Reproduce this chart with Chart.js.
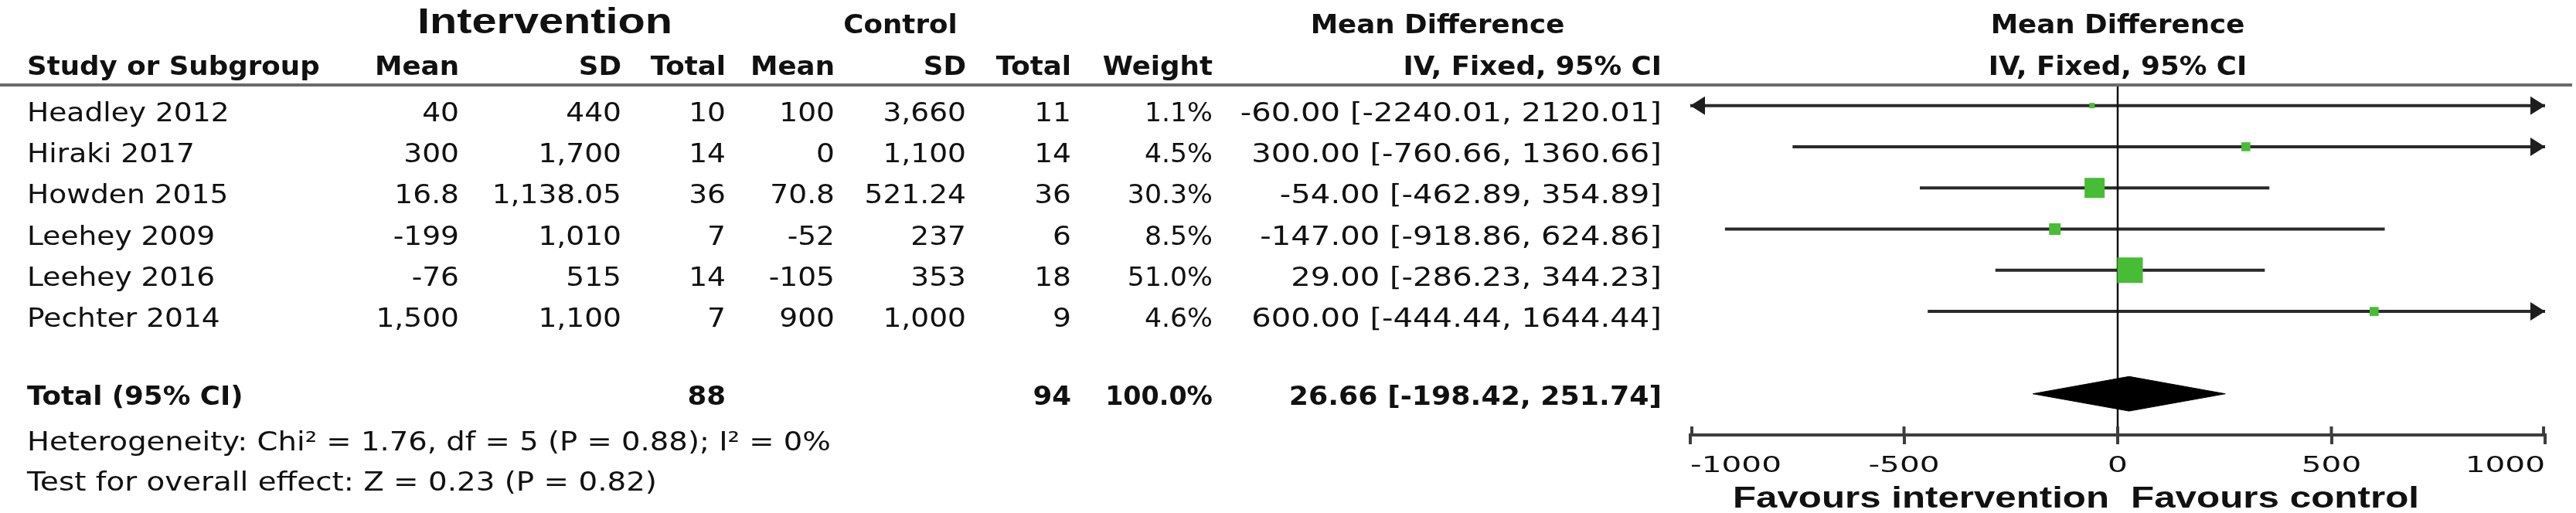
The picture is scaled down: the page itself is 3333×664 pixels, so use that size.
<!DOCTYPE html>
<html>
<head>
<meta charset="utf-8">
<script src="https://cdn.jsdelivr.net/npm/chart.js@4.4.1/dist/chart.umd.min.js"></script>
<style>
html,body{margin:0;padding:0;background:#fff;}
canvas{display:block;}
</style>
</head>
<body>
<canvas id="c" width="3333" height="664"></canvas>
<script>
// ---------------- DATA ----------------
const studies   = ['Headley 2012','Hiraki 2017','Howden 2015','Leehey 2009','Leehey 2016','Pechter 2014'];
const intMean   = ['40','300','16.8','-199','-76','1,500'];
const intSD     = ['440','1,700','1,138.05','1,010','515','1,100'];
const intTotal  = [10,14,36,7,14,7];
const ctlMean   = ['100','0','70.8','-52','-105','900'];
const ctlSD     = ['3,660','1,100','521.24','237','353','1,000'];
const ctlTotal  = [11,14,36,6,18,9];
const weights   = [1.1,4.5,30.3,8.5,51.0,4.6];
const md        = [-60.00,300.00,-54.00,-147.00,29.00,600.00];
const ciLow     = [-2240.01,-760.66,-462.89,-918.86,-286.23,-444.44];
const ciHigh    = [2120.01,1360.66,354.89,624.86,344.23,1644.44];
const totalInt  = 88;
const totalCtl  = 94;
const totalWeight = 100.0;
const totalMD   = 26.66;
const totalLow  = -198.42;
const totalHigh = 251.74;
const xTicks    = [-1000,-500,0,500,1000];
const heterogeneityText = 'Heterogeneity: Chi\u00B2 = 1.76, df = 5 (P = 0.88); I\u00B2 = 0%';
const overallText = 'Test for overall effect: Z = 0.23 (P = 0.82)';
const favourLeft = 'Favours intervention';
const favourRight = 'Favours control';

// ---------------- helpers ----------------
const X_MIN = xTicks[0], X_MAX = xTicks[xTicks.length-1];
const TOTAL_ROW = studies.length + 1;
const fmt2 = v => v.toFixed(2);
const ciStr = (m,l,h) => fmt2(m) + ' [' + fmt2(l) + ', ' + fmt2(h) + ']';
const sqSide = w => 4.27*Math.sqrt(w) + 2.5;

const GREEN = '#46bd34';
const LINE = '#2a2a2a';

const datasets = [];
// squares (point estimates)
datasets.push({
  label: 'Estimate',
  data: md.map((v,i)=>({x:v, y:i})),
  pointStyle: 'rect',
  pointRadius: c => sqSide(weights[c.dataIndex]) / Math.SQRT2,
  pointHoverRadius: c => sqSide(weights[c.dataIndex]) / Math.SQRT2,
  backgroundColor: GREEN,
  borderWidth: 0,
  showLine: false,
  order: 0
});
// confidence interval lines
studies.forEach((s,i)=>{
  datasets.push({
    label: s + ' CI',
    data: [{x: Math.max(ciLow[i], X_MIN), y: i}, {x: Math.min(ciHigh[i], X_MAX), y: i}],
    showLine: true,
    borderColor: LINE,
    borderWidth: 4,
    pointRadius: 0,
    order: 3
  });
});
// line of no effect
datasets.push({
  label: 'zero',
  data: [{x:0, y:-0.5}, {x:0, y:TOTAL_ROW + 1}],
  showLine: true,
  borderColor: '#111',
  borderWidth: 2.5,
  pointRadius: 0,
  order: 2
});
// pooled diamond
const DH = 0.42;
datasets.push({
  label: 'Total',
  data: [{x:totalLow,y:TOTAL_ROW},{x:totalMD,y:TOTAL_ROW-DH},{x:totalHigh,y:TOTAL_ROW},{x:totalMD,y:TOTAL_ROW+DH},{x:totalLow,y:TOTAL_ROW}],
  showLine: true,
  fill: 'shape',
  backgroundColor: '#000',
  borderColor: '#000',
  borderWidth: 1,
  pointRadius: 0,
  tension: 0,
  order: 1
});

function txt(ctx, s, x, y, font, align, sx, w) {
  ctx.save();
  ctx.font = font;
  const m = ctx.measureText(s).width;
  const k = w ? w / m : (sx || 1);
  const W = m * k;
  let x0 = align === 'right' ? x - W : (align === 'center' ? x - W/2 : x);
  ctx.translate(x0, y);
  ctx.scale(k, 1);
  ctx.textAlign = 'left';
  ctx.textBaseline = 'alphabetic';
  ctx.fillStyle = '#111';
  ctx.fillText(s, 0, 0);
  ctx.restore();
}

const REG = '34px "DejaVu Sans"', RSX = 1.105;
const BLD = 'bold 33px "DejaVu Sans"', BSX = 1.08;
const CSX = 1.18;   // CI strings
const WSX = 1.02;   // weights
const COL = {study:35, intMean:594, intSD:804, intTot:939, ctlMean:1080, ctlSD:1250, ctlTot:1386, weight:1569, ci:2150};

const forestPlugin = {
  id: 'forest',
  afterDraw(chart) {
    const ctx = chart.ctx;
    const xs = chart.scales.x, ys = chart.scales.y;
    const ca = chart.chartArea;
    const midX = (ca.left + ca.right) / 2;

    // header separator
    ctx.save();
    ctx.strokeStyle = '#6a6a6a';
    ctx.lineWidth = 4;
    ctx.beginPath(); ctx.moveTo(0, ca.top); ctx.lineTo(3328, ca.top); ctx.stroke();
    ctx.restore();

    // headers line 1
    const h1 = 43, h2 = 97;
    txt(ctx, 'Intervention', 705, h1, 'bold 46px "Liberation Sans"', 'center', 0, 330);
    txt(ctx, 'Control', 1165, h1, BLD, 'center', BSX);
    txt(ctx, 'Mean Difference', 1860, h1, BLD, 'center', BSX);
    txt(ctx, 'Mean Difference', midX, h1, BLD, 'center', BSX);
    // headers line 2
    txt(ctx, 'Study or Subgroup', COL.study, h2, BLD, 'left', BSX);
    txt(ctx, 'Mean', COL.intMean, h2, BLD, 'right', BSX);
    txt(ctx, 'SD', COL.intSD, h2, BLD, 'right', BSX);
    txt(ctx, 'Total', COL.intTot, h2, BLD, 'right', BSX);
    txt(ctx, 'Mean', COL.ctlMean, h2, BLD, 'right', BSX);
    txt(ctx, 'SD', COL.ctlSD, h2, BLD, 'right', BSX);
    txt(ctx, 'Total', COL.ctlTot, h2, BLD, 'right', BSX);
    txt(ctx, 'Weight', COL.weight, h2, BLD, 'right', BSX);
    txt(ctx, 'IV, Fixed, 95% CI', COL.ci, h2, BLD, 'right', BSX);
    txt(ctx, 'IV, Fixed, 95% CI', midX, h2, BLD, 'center', BSX);

    // study rows
    studies.forEach((s,i)=>{
      const y = ys.getPixelForValue(i) + 20;
      txt(ctx, s, COL.study, y, REG, 'left', RSX);
      txt(ctx, intMean[i], COL.intMean, y, REG, 'right', RSX);
      txt(ctx, intSD[i], COL.intSD, y, REG, 'right', RSX);
      txt(ctx, String(intTotal[i]), COL.intTot, y, REG, 'right', RSX);
      txt(ctx, ctlMean[i], COL.ctlMean, y, REG, 'right', RSX);
      txt(ctx, ctlSD[i], COL.ctlSD, y, REG, 'right', RSX);
      txt(ctx, String(ctlTotal[i]), COL.ctlTot, y, REG, 'right', RSX);
      txt(ctx, weights[i].toFixed(1) + '%', COL.weight, y, REG, 'right', WSX);
      txt(ctx, ciStr(md[i], ciLow[i], ciHigh[i]), COL.ci, y, REG, 'right', CSX);
    });

    // total row
    const ty = ys.getPixelForValue(TOTAL_ROW) + 14;
    txt(ctx, 'Total (95% CI)', COL.study, ty, BLD, 'left', BSX);
    txt(ctx, String(totalInt), COL.intTot, ty, BLD, 'right', BSX);
    txt(ctx, String(totalCtl), COL.ctlTot, ty, BLD, 'right', BSX);
    txt(ctx, totalWeight.toFixed(1) + '%', COL.weight, ty, BLD, 'right', 1.01);
    txt(ctx, ciStr(totalMD, totalLow, totalHigh), COL.ci, ty, BLD, 'right', 1.10);

    // footnotes
    txt(ctx, heterogeneityText, COL.study, 583, REG, 'left', 0, 1040);
    txt(ctx, overallText, COL.study, 635, REG, 'left', 0, 815);

    // arrowheads for clipped CIs
    ctx.save();
    ctx.fillStyle = '#1e1e1e';
    studies.forEach((s,i)=>{
      const y = ys.getPixelForValue(i);
      if (ciLow[i] < X_MIN) {
        const xL = xs.getPixelForValue(X_MIN);
        ctx.beginPath(); ctx.moveTo(xL, y); ctx.lineTo(xL+19, y-12); ctx.lineTo(xL+19, y+12); ctx.closePath(); ctx.fill();
      }
      if (ciHigh[i] > X_MAX) {
        const xR = xs.getPixelForValue(X_MAX);
        ctx.beginPath(); ctx.moveTo(xR, y); ctx.lineTo(xR-19, y-12); ctx.lineTo(xR-19, y+12); ctx.closePath(); ctx.fill();
      }
    });
    ctx.restore();

    // upper halves of the axis tick marks
    ctx.save();
    ctx.strokeStyle = '#3d3d3d';
    ctx.lineWidth = 4;
    xs.ticks.forEach(t=>{
      const px = Math.max(ca.left+2, Math.min(ca.right-2, xs.getPixelForValue(t.value)));
      ctx.beginPath(); ctx.moveTo(px, ca.bottom - 11); ctx.lineTo(px, ca.bottom); ctx.stroke();
    });
    ctx.restore();

    // tick labels
    xs.ticks.forEach((t,k)=>{
      const px = xs.getPixelForValue(t.value);
      const al = k === 0 ? 'left' : (k === xs.ticks.length-1 ? 'right' : 'center');
      txt(ctx, String(t.value), px, 611, '29px "DejaVu Sans"', al, 1.4);
    });

    // favours labels
    const zx = xs.getPixelForValue(0);
    txt(ctx, favourLeft, zx - 11, 657, 'bold 38px "Liberation Sans"', 'right', 0, 487);
    txt(ctx, favourRight, zx + 17, 657, 'bold 38px "Liberation Sans"', 'left', 0, 373);
  }
};

new Chart(document.getElementById('c'), {
  type: 'scatter',
  data: { datasets },
  options: {
    responsive: false,
    devicePixelRatio: 1,
    animation: false,
    events: [],
    layout: { padding: { left: 2187, right: 40, top: 110, bottom: 0 } },
    plugins: { legend: {display:false}, title: {display:false}, tooltip: {enabled:false} },
    scales: {
      x: {
        type: 'linear',
        position: 'bottom',
        min: X_MIN, max: X_MAX,
        afterBuildTicks: s => { s.ticks = xTicks.map(v=>({value:v})); },
        afterFit: s => { s.height = 101; },
        border: { display: true, color: '#3d3d3d', width: 4 },
        grid: { display: true, drawOnChartArea: false, drawTicks: true, tickLength: 12, color: '#3d3d3d', lineWidth: 4 },
        ticks: { display: false }
      },
      y: {
        type: 'linear',
        display: false,
        reverse: true,
        min: -0.5, max: TOTAL_ROW + 1
      }
    }
  },
  plugins: [forestPlugin]
});
</script>
</body>
</html>
